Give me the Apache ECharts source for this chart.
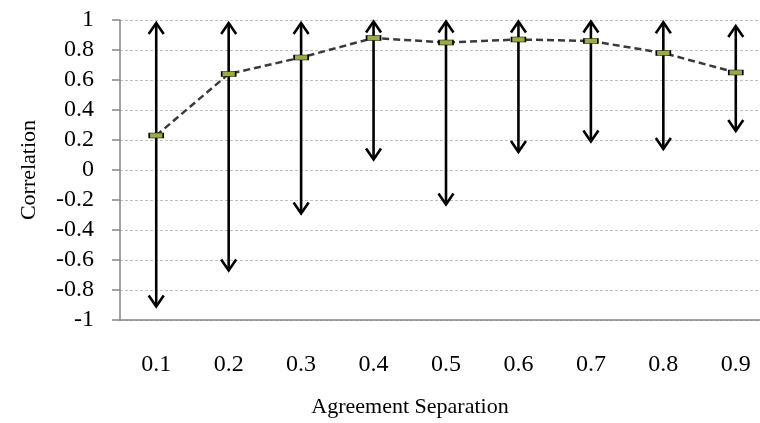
<!DOCTYPE html>
<html>
<head>
<meta charset="utf-8">
<script src="https://cdn.jsdelivr.net/npm/echarts@6/dist/echarts.min.js"></script>
<style>html,body{margin:0;padding:0;background:#fff;overflow:hidden;}#c{width:773px;height:423px;}</style>
</head>
<body>
<div id="c"></div>
<script>
const categories = ['0.1','0.2','0.3','0.4','0.5','0.6','0.7','0.8','0.9'];
const means = [0.23, 0.64, 0.75, 0.88, 0.85, 0.87, 0.86, 0.78, 0.65];
const lows  = [-0.91, -0.67, -0.29, 0.07, -0.23, 0.12, 0.19, 0.14, 0.26];
const highs = [0.98, 0.98, 0.98, 0.99, 0.99, 0.99, 0.99, 0.985, 0.96];
const yTicks = {min: -1, max: 1, interval: 0.2};

const FONT = '"Liberation Serif", "Times New Roman", serif';
const chart = echarts.init(document.getElementById('c'));
const rangeData = categories.map((c, i) => [i, lows[i], highs[i]]);

chart.setOption({
  animation: false,
  backgroundColor: '#fff',
  grid: {left: 120, top: 20, width: 652, height: 302},
  xAxis: {
    type: 'category',
    data: categories,
    boundaryGap: true,
    name: 'Agreement Separation',
    nameLocation: 'middle',
    nameGap: 76,
    nameTextStyle: {fontFamily: FONT, fontSize: 22, color: '#000', padding: [0, 72, 0, 0]},
    axisLine: {onZero: false, lineStyle: {color: '#868686', width: 1.5}},
    axisTick: {alignWithLabel: true, length: 6, lineStyle: {color: '#868686', width: 1.5}},
    axisLabel: {fontFamily: FONT, fontSize: 24, color: '#000', margin: 33},
    splitLine: {show: false}
  },
  yAxis: {
    type: 'value',
    min: yTicks.min, max: yTicks.max, interval: yTicks.interval,
    name: 'Correlation',
    nameLocation: 'middle',
    nameGap: 80,
    nameTextStyle: {fontFamily: FONT, fontSize: 22, color: '#000'},
    axisLine: {show: true, lineStyle: {color: '#868686', width: 1.5}},
    axisTick: {show: true, length: 8, lineStyle: {color: '#868686', width: 1.5}},
    axisLabel: {fontFamily: FONT, fontSize: 24, color: '#000', margin: 26},
    splitLine: {show: true, lineStyle: {color: '#c0c0c0', type: [3, 2], width: 1}}
  },
  series: [
    {
      type: 'custom',
      z: 2,
      data: rangeData,
      renderItem: function (params, api) {
        const top = api.coord([api.value(0), api.value(2)]);
        const bot = api.coord([api.value(0), api.value(1)]);
        const x = top[0], hw = 7.5, hh = 11;
        const st = {stroke: '#000', lineWidth: 2.6, fill: null, lineJoin: 'miter'};
        return {
          type: 'group',
          children: [
            {type: 'line', shape: {x1: x, y1: top[1] + 1, x2: x, y2: bot[1] - 1}, style: st},
            {type: 'polyline', shape: {points: [[x - hw, top[1] + hh], [x, top[1]], [x + hw, top[1] + hh]]}, style: st},
            {type: 'polyline', shape: {points: [[x - hw, bot[1] - hh], [x, bot[1]], [x + hw, bot[1] - hh]]}, style: st}
          ]
        };
      }
    },
    {
      type: 'line',
      z: 3,
      data: means,
      symbol: 'rect',
      symbolSize: [14, 5],
      itemStyle: {color: '#9aab45', borderColor: '#000', borderWidth: 1},
      lineStyle: {color: '#3a3a3a', width: 2.5, type: [7, 4]}
    }
  ]
});
</script>
</body>
</html>
